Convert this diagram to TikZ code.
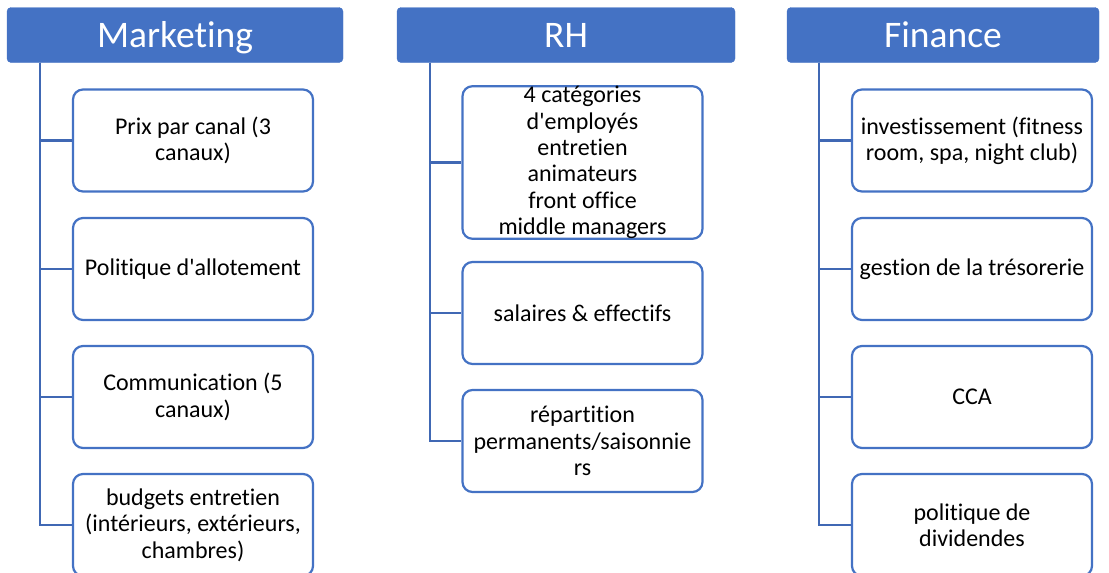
\documentclass[tikz,border=0pt]{standalone}
\usepackage{fontspec}
\setmainfont{Carlito}[Ligatures={CommonOff,TeXOff}]
\definecolor{obl}{HTML}{4472C4}
\definecolor{lnc}{HTML}{4068B4}
\tikzset{
  hdr/.style={draw=obl, fill=obl, rounded corners=4pt, minimum height=55pt, inner sep=0pt, text height=28pt, text depth=4pt, text=white, font=\fontsize{37.5}{44}\selectfont},
  kid/.style={draw=obl, line width=2.2pt, fill=white, rounded corners=10pt, minimum width=240pt, minimum height=102pt, inner sep=0pt, align=center, font=\fontsize{24}{26.4}\selectfont},
  con/.style={draw=lnc, line width=2.2pt},
}
\begin{document}
\begin{tikzpicture}[x=1pt,y=-1pt]
\useasboundingbox (0,0) rectangle (1109,573);
% headers
\node[hdr, minimum width=336pt] (mh) at (175,35) {Marketing};
\node[hdr, minimum width=338pt] (rh) at (566,35) {RH};
\node[hdr, minimum width=312pt] (fh) at (943,35) {Finance};
% marketing children
\node[kid] (m1) at (193,140.5) {Prix par canal (3\\canaux)};
\node[kid] (m2) at (193,269) {Politique d'allotement};
\node[kid] (m3) at (193,397) {Communication (5\\canaux)};
\node[kid] (m4) at (193,525) {budgets entretien\\(intérieurs, extérieurs,\\chambres)};
% RH children
\node[kid, minimum height=147pt] (r1) at (582.5,162.5) {4 catégories\\d'employés\\entretien\\animateurs\\front office\\middle managers};
\node[kid] (r2) at (582.5,313) {salaires \& effectifs};
\node[kid] (r3) at (582.5,441) {répartition\\permanents/saisonnie\\rs};
% finance children
\node[kid] (f1) at (972,140.5) {investissement (fitness\\room, spa, night club)};
\node[kid] (f2) at (972,269) {gestion de la trésorerie};
\node[kid] (f3) at (972,397) {CCA};
\node[kid] (f4) at (972,525) {politique de\\dividendes};
% connectors
\foreach \c in {m1,m2,m3,m4} \draw[con] ([xshift=33pt]mh.south west) |- (\c.west);
\foreach \c in {r1,r2,r3} \draw[con] ([xshift=33pt]rh.south west) |- (\c.west);
\foreach \c in {f1,f2,f3,f4} \draw[con] ([xshift=32pt]fh.south west) |- (\c.west);
\end{tikzpicture}
\end{document}
